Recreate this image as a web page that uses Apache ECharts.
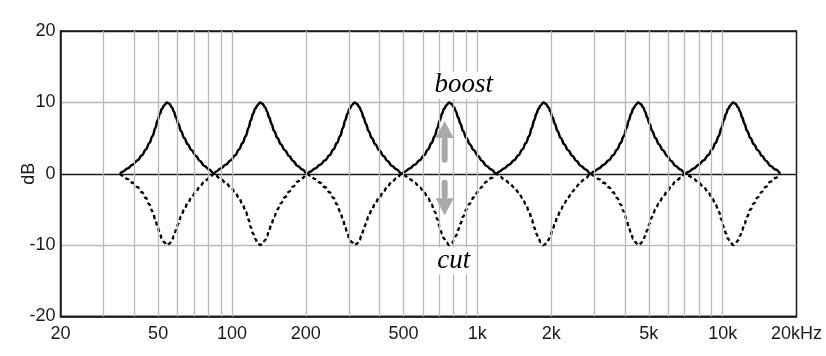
<!DOCTYPE html>
<html>
<head>
<meta charset="utf-8">
<script src="https://cdn.jsdelivr.net/npm/echarts@6/dist/echarts.min.js"></script>
<style>html,body{margin:0;padding:0;background:#fff}#c{width:826px;height:356px}</style>
</head>
<body>
<div id="c"></div>
<script>
// ---- data ----
const bandCenters = [54.3, 130.2, 315.8, 767, 1860, 4524, 11030];     // Hz, centre of each band
const shapeOffsets = [-0.1915, -0.1805, -0.1601, -0.1398, -0.1194, -0.1019, -0.0856, -0.0717,
                      -0.0583, -0.0473, -0.0379, -0.0285, -0.0204, -0.0106, 0,
                       0.0098, 0.0204, 0.0285, 0.0367, 0.0465, 0.0570, 0.0709, 0.0844,
                       0.1007, 0.1182, 0.1345, 0.1524, 0.1728, 0.1915];   // decades from centre
const boostGain = [0, 0.28, 0.75, 1.27, 1.9, 2.6, 3.4, 4.3, 5.3, 6.4, 7.5, 8.4, 9.1, 9.6, 10,
                   9.8, 9.3, 8.7, 7.9, 7.0, 6.0, 5.0, 4.15, 3.3, 2.5, 1.8, 1.1, 0.6, 0];       // dB
const cutGain   = [0, -0.28, -0.75, -1.27, -1.9, -2.6, -3.4, -4.3, -5.3, -6.4, -7.5, -8.4, -9.1, -9.6, -10,
                   -9.8, -9.3, -8.7, -7.9, -7.0, -6.0, -5.0, -4.15, -3.3, -2.5, -1.8, -1.1, -0.6, 0]; // dB
const xTickValues = [20, 50, 100, 200, 500, 1000, 2000, 5000, 10000, 20000];
const xTickLabels = ['20', '50', '100', '200', '500', '1k', '2k', '5k', '10k', '20kHz'];
const xGridFreqs = [30, 40, 50, 60, 70, 80, 90, 100, 200, 300, 400, 500, 600, 700, 800, 900,
                    1000, 2000, 3000, 4000, 5000, 6000, 7000, 8000, 9000, 10000];
const yTicks = [-20, -10, 0, 10, 20];

function buildCurve(gains) {
  const out = [];
  bandCenters.forEach((c, b) => {
    shapeOffsets.forEach((o, i) => {
      if (b > 0 && i === 0) return;
      out.push([c * Math.pow(10, o), gains[i]]);
    });
  });
  return out;
}
const boostData = buildCurve(boostGain);
const cutData = buildCurve(cutGain);

const chart = echarts.init(document.getElementById('c'));
const font = 'Liberation Sans, Arial, sans-serif';
const labelMap = {};
xTickValues.forEach((v, i) => labelMap[v] = xTickLabels[i]);

chart.setOption({
  animation: false,
  grid: { left: 60.5, right: 29.5, top: 31, bottom: 39.5, show: true, borderColor: '#1a1a1a', borderWidth: 1.5,
          outerBoundsMode: 'none', containLabel: false },
  xAxis: {
    type: 'log', logBase: 10, min: 20, max: 20000,
    axisLine: { show: true, onZero: false, lineStyle: { color: '#1a1a1a', width: 1.5 } },
    axisTick: { show: false },
    splitLine: { show: false },
    axisLabel: {
      customValues: xTickValues,
      formatter: v => labelMap[Math.round(v)] || '',
      color: '#1a1a1a', fontFamily: font, fontSize: 18, margin: 9
    }
  },
  yAxis: {
    type: 'value', min: -20, max: 20, interval: 10,
    name: 'dB', nameLocation: 'middle', nameGap: 22, nameRotate: 90, nameMoveOverlap: false,
    nameTextStyle: { color: '#1a1a1a', fontFamily: font, fontSize: 18 },
    axisLine: { show: true, lineStyle: { color: '#1a1a1a', width: 1.5 } },
    axisTick: { show: false },
    splitLine: { show: true, lineStyle: { color: ['#1a1a1a', '#b8b8b8', '#1a1a1a', '#b8b8b8', '#1a1a1a'], width: 1.3 } },
    axisLabel: { color: '#1a1a1a', fontFamily: font, fontSize: 18, margin: 5,
                 formatter: v => yTicks.indexOf(v) >= 0 ? String(v) : '' }
  },
  series: [
    {
      type: 'line', data: [], z: 1, silent: true,
      markLine: {
        silent: true, symbol: 'none', label: { show: false },
        lineStyle: { color: '#b8b8b8', width: 1.3, type: 'solid' },
        data: xGridFreqs.map(v => ({ xAxis: v }))
      }
    },
    {
      type: 'line', data: cutData, z: 3, showSymbol: false, smooth: 0.45, smoothMonotone: 'x',
      lineStyle: { color: '#000', width: 2.4, type: [4, 3] }
    },
    {
      type: 'line', data: boostData, z: 4, showSymbol: false, smooth: 0.45, smoothMonotone: 'x',
      lineStyle: { color: '#000', width: 2.5 }
    }
  ]
});

// annotations placed through the axes
const P = (f, db) => chart.convertToPixel({ gridIndex: 0 }, [f, db]);
const up0 = P(736, 1.55), up1 = P(736, 7.4);
const dn0 = P(736, -0.85), dn1 = P(736, -5.8);
const headH = 17, headW = 9, shaft = 3;
const grey = '#a9a9a9';
const boostPos = P(881, 10.5), cutPos = P(802, -14.1);
chart.setOption({
  graphic: [
    { type: 'rect', z: 10, shape: { x: up0[0] - shaft, y: up1[1] + headH - 1, width: shaft * 2, height: up0[1] - up1[1] - headH + 1, r: 3 }, style: { fill: grey } },
    { type: 'polygon', z: 10, shape: { points: [[up1[0], up1[1]], [up1[0] - headW, up1[1] + headH], [up1[0] + headW, up1[1] + headH]] }, style: { fill: grey } },
    { type: 'rect', z: 10, shape: { x: dn0[0] - shaft, y: dn0[1], width: shaft * 2, height: dn1[1] - dn0[1] - headH + 1, r: 3 }, style: { fill: grey } },
    { type: 'polygon', z: 10, shape: { points: [[dn1[0], dn1[1]], [dn1[0] - headW, dn1[1] - headH], [dn1[0] + headW, dn1[1] - headH]] }, style: { fill: grey } },
    { type: 'text', z: 11, x: boostPos[0], y: boostPos[1], style: { text: 'boost', fill: '#000', font: 'italic 27px "Liberation Serif", "DejaVu Serif", serif', textAlign: 'center', textVerticalAlign: 'bottom', backgroundColor: '#fff' } },
    { type: 'text', z: 11, x: cutPos[0], y: cutPos[1], style: { text: 'cut', fill: '#000', font: 'italic 27px "Liberation Serif", "DejaVu Serif", serif', textAlign: 'center', textVerticalAlign: 'bottom', backgroundColor: '#fff' } }
  ]
});
</script>
</body>
</html>
